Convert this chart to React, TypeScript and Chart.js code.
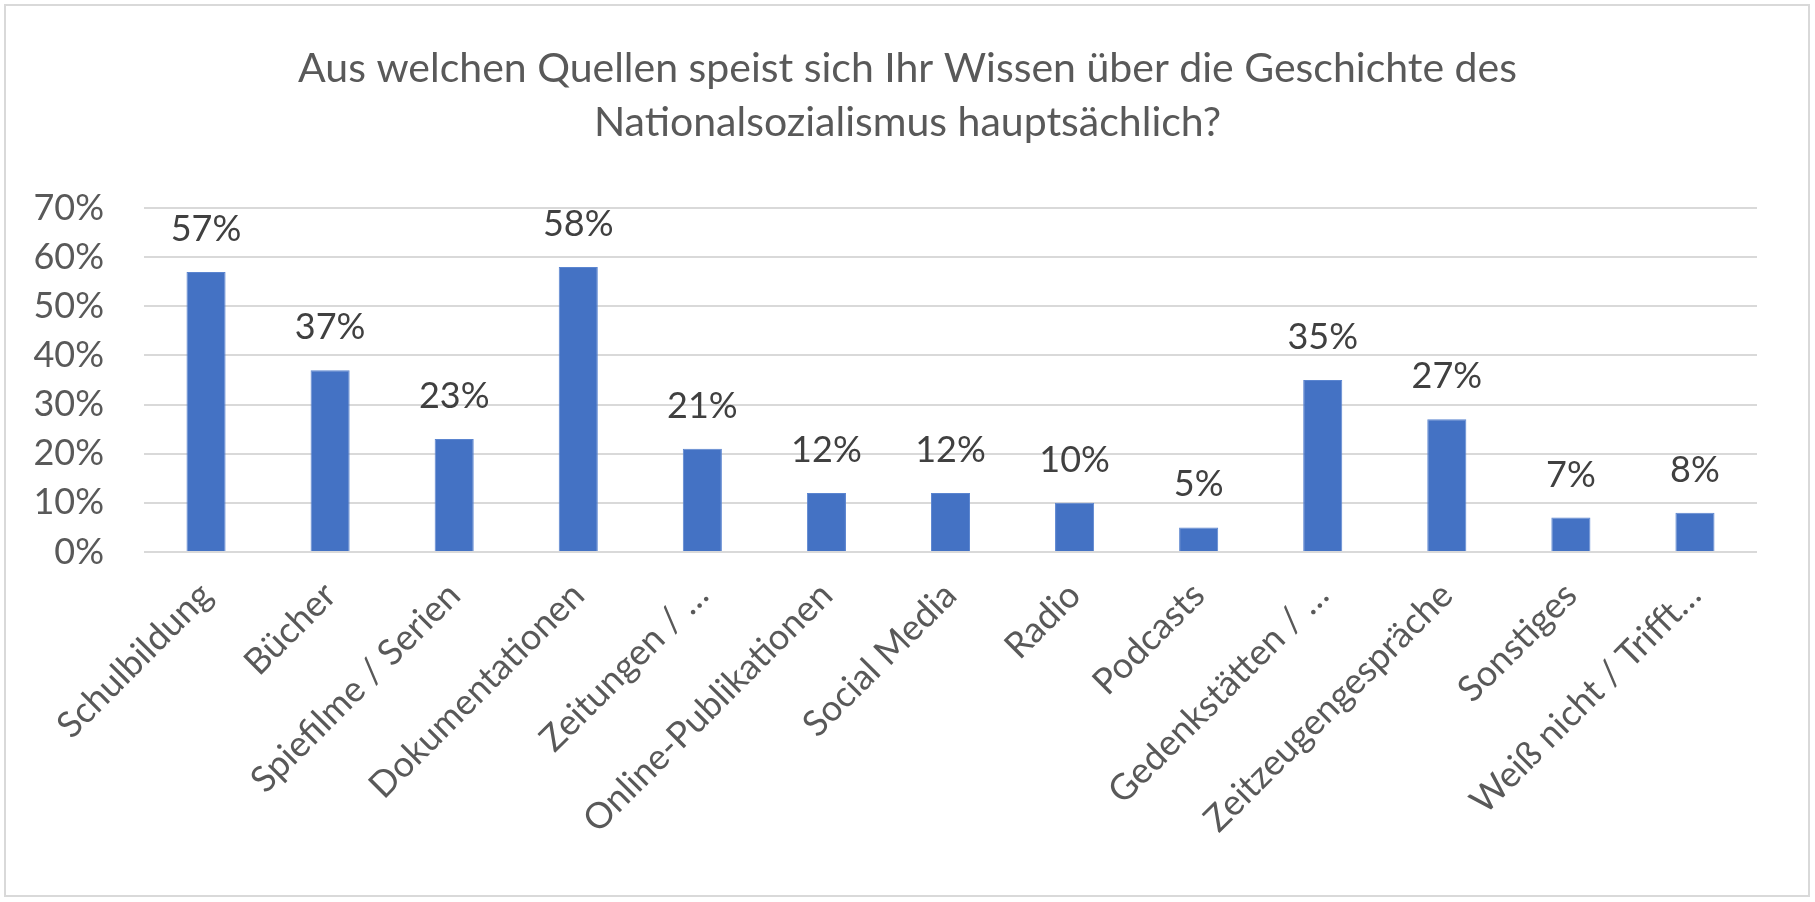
import React, { useEffect, useRef } from "react";
import { Chart, registerables } from "chart.js";

Chart.register(...registerables);

const categories: string[] = [
  "Schulbildung",
  "Bücher",
  "Spiefilme / Serien",
  "Dokumentationen",
  "Zeitungen / …",
  "Online-Publikationen",
  "Social Media",
  "Radio",
  "Podcasts",
  "Gedenkstätten / …",
  "Zeitzeugengespräche",
  "Sonstiges",
  "Weiß nicht / Trifft…",
];

const values: number[] = [57, 37, 23, 58, 21, 12, 12, 10, 5, 35, 27, 7, 8];

const titleLines: string[] = [
  "Aus welchen Quellen speist sich Ihr Wissen über die Geschichte des",
  "Nationalsozialismus hauptsächlich?",
];

const yMax = 70;
const yStep = 10;

const FONT = "Lato";

const dataLabelPlugin = {
  id: "dataLabels",
  afterDatasetsDraw(chart: any) {
    const ctx = chart.ctx;
    const meta = chart.getDatasetMeta(0);
    ctx.save();
    ctx.font = `36px ${FONT}`;
    ctx.fillStyle = "#404040";
    ctx.textAlign = "center";
    ctx.textBaseline = "alphabetic";
    meta.data.forEach((bar: any, i: number) => {
      ctx.fillText(`${values[i]}%`, bar.x, bar.y - 31);
    });
    ctx.restore();
  },
};

export default function App() {
  const canvasRef = useRef<HTMLCanvasElement | null>(null);

  useEffect(() => {
    document.body.style.margin = "0";
    let chart: Chart | null = null;
    let cancelled = false;
    const make = () => {
      if (cancelled || !canvasRef.current) return;
      chart = new Chart(canvasRef.current, {
        type: "bar",
        data: {
          labels: categories,
          datasets: [
            {
              data: values,
              backgroundColor: "#4472C4",
              borderColor: "#5B85D0",
              borderWidth: 1,
              barPercentage: 0.315,
              categoryPercentage: 1,
            },
          ],
        },
        plugins: [dataLabelPlugin],
        options: {
          animation: false,
          responsive: false,
          maintainAspectRatio: false,
          devicePixelRatio: 1,
          layout: { padding: { left: 0, right: 0, top: 0, bottom: 0 } },
          plugins: {
            legend: { display: false },
            tooltip: { enabled: false },
            title: {
              display: true,
              text: titleLines,
              color: "#595959",
              font: { family: FONT, size: 41, weight: "normal", lineHeight: 54 / 41 },
              padding: { top: 42, bottom: 58 },
            },
          },
          scales: {
            x: {
              grid: { display: false },
              border: { display: false },
              ticks: {
                color: "#595959",
                font: { family: FONT, size: 36 },
                minRotation: 45,
                maxRotation: 45,
                autoSkip: false,
                padding: 14,
              },
              afterFit: (scale: any) => {
                scale.height = 350;
              },
            },
            y: {
              min: 0,
              max: yMax,
              border: { display: false },
              grid: { color: "#D9D9D9", lineWidth: 2, drawTicks: false },
              ticks: {
                stepSize: yStep,
                color: "#595959",
                font: { family: FONT, size: 36 },
                padding: 40,
                callback: (v: any) => `${v}%`,
              },
              afterFit: (scale: any) => {
                scale.width = 144;
              },
            },
            yRight: {
              type: "linear",
              position: "right",
              min: 0,
              max: yMax,
              border: { display: false },
              grid: { display: false, drawTicks: false },
              ticks: { display: false },
              afterFit: (scale: any) => {
                scale.width = 58;
              },
            },
          },
        },
      });
    };
    if ((document as any).fonts && (document as any).fonts.load) {
      Promise.all([
        (document as any).fonts.load(`36px ${FONT}`),
        (document as any).fonts.load(`41px ${FONT}`),
      ])
        .catch(() => {})
        .then(make);
    } else {
      make();
    }
    return () => {
      cancelled = true;
      if (chart) chart.destroy();
    };
  }, []);

  return (
    <div style={{ position: "relative", width: 1815, height: 902, background: "#fff" }}>
      <canvas ref={canvasRef} width={1815} height={902} style={{ display: "block" }} />
      <div
        style={{
          position: "absolute",
          left: 4,
          top: 4,
          width: 1806,
          height: 893,
          border: "2px solid #D9D9D9",
          boxSizing: "border-box",
          pointerEvents: "none",
        }}
      />
    </div>
  );
}
